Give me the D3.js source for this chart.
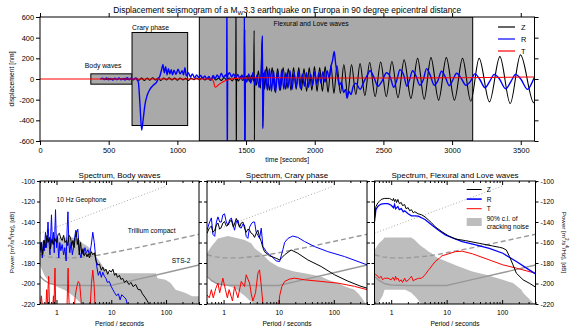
<!DOCTYPE html>
<html>
<head>
<meta charset="utf-8">
<script src="https://cdn.jsdelivr.net/npm/d3@7"></script>
<style>
body{margin:0;background:#fff;}
text{font-family:"Liberation Sans",Arial,sans-serif;fill:#000;}
</style>
</head>
<body>
<script>
// ---------- seismogram (time [s], displacement [nm]) ----------
const traceZ = [[440,0],[460,5],[480,-4],[500,6],[520,-5],[540,4],[560,-6],[580,5],[600,-3],[620,6],[640,-5],[660,4],
 [680,-8],[700,10],[720,-12],[740,8],[760,-15],[780,10],[800,-12],[820,12],[840,-10],[860,8],[880,-14],[900,10],
 [920,-8],[940,12],[960,-10],[980,8],[1000,-12],[1020,10],[1040,-8],[1060,6],[1080,-15],[1100,8],[1120,-6],[1140,10],
 [1160,-8],[1180,12],[1200,-10],[1220,8],[1240,-12],[1260,15],[1280,-10],[1300,8],[1320,-15],[1340,12],[1360,-10],
 [1380,10],[1400,-20],[1415,15],[1425,-10],[1427,900],[1429,-900],[1431,10],[1445,-20],[1460,25],[1475,-15],[1488,10],
 [1491,480],[1493,-590],[1495,-10],[1510,30],[1525,-25],[1540,35],[1555,-20],[1559,470],[1561,-590],[1563,20],
 [1575,-60],[1590,80],[1605,-90],[1619,400],[1622,-460],[1628,60],[1635,-100],
 [1650,120],[1670,-110],[1690,110],[1710,-120],[1730,100],[1750,-110],[1770,110],[1789,-100],[1808,100],[1827,-110],
 [1846,110],[1865,-100],[1884,110],[1903,-110],[1922,100],[1941,-120],[1960,110],[1979,-110],[1998,120],[2017,-120],
 [2036,110],[2056,-120],[2076,120],[2097,-130],[2118,130],[2140,-140],[2162,130],[2187,-140],[2212,140],[2240,-150],
 [2268,140],[2299,-150],[2330,150],[2365,-160],[2400,160],[2440,-170],[2480,165],[2521,-170],[2562,170],[2606,-180],
 [2651,185],[2700,-188],[2749,200],[2797,-195],[2846,207],[2902,-204],[2958,207],[3017,-204],[3076,200],[3136,-215],
 [3197,200],[3272,-221],[3348,217],[3423,-237],[3498,233],[3595,-230],[3600,-228]];

const traceR = [[440,0],[455,8],[470,-6],[485,10],[500,-8],[515,6],[530,-10],[545,8],[560,-5],[575,10],[590,-8],[605,6],
 [620,-10],[635,12],[650,-8],[665,10],[680,-5],[695,8],[705,-5],[716,-30],[728,-250],[740,-495],[752,-380],[764,-250],
 [780,-160],[800,-100],[825,-60],[849,-30],[860,0],[873,30],[885,90],[895,140],[905,60],[915,120],[925,40],[935,100],
 [945,50],[955,90],[965,40],[975,85],[990,45],[1005,95],[1020,50],[1035,80],[1045,40],[1055,110],[1065,30],[1080,60],
 [1095,20],[1110,50],[1125,10],[1140,40],[1155,15],[1170,35],[1185,5],[1200,30],[1215,0],[1230,25],[1245,-10],[1260,35],
 [1275,5],[1290,40],[1305,10],[1320,55],[1335,15],[1350,40],[1359,20],[1361,900],[1363,-900],[1366,30],[1380,60],
 [1395,20],[1410,50],[1425,10],[1440,45],[1455,0],[1470,40],[1485,-10],[1488,600],[1490,-600],[1493,20],[1505,-30],
 [1520,50],[1535,-40],[1550,60],[1565,-60],[1580,40],[1595,-80],[1610,50],[1619,420],[1622,-480],[1630,-20],[1640,90],
 [1655,-110],[1670,100],[1685,-120],[1700,80],[1715,-130],[1730,70],[1745,-110],[1760,90],[1775,-100],[1790,60],
 [1805,-90],[1820,80],[1835,-100],[1850,60],[1865,-80],[1880,70],[1895,-90],[1910,50],[1925,-70],[1940,60],[1955,-80],
 [1970,50],[1985,-60],[2000,70],[2015,-50],[2030,60],[2045,-40],[2060,70],[2075,-30],[2090,80],[2105,10],[2118,120],
 [2130,180],[2142,266],[2152,150],[2165,40],[2180,-60],[2195,-30],[2210,-130],[2225,-100],[2235,-185],[2250,-120],
 [2265,-150],[2280,-70],[2300,-40],[2330,-100],[2360,-20],[2380,30],[2402,80],[2430,20],[2460,-70],[2490,-20],
 [2523,60],[2550,20],[2575,-80],[2600,0],[2620,90],[2650,30],[2670,-70],[2690,-10],[2712,80],[2740,20],[2765,-60],
 [2790,-10],[2814,100],[2840,40],[2870,-60],[2895,-20],[2923,75],[2950,20],[2980,-65],[3005,-10],[3033,55],[3065,10],
 [3100,-60],[3135,-20],[3166,50],[3200,0],[3240,-85],[3275,-20],[3307,45],[3345,0],[3390,-95],[3430,-20],[3462,45],
 [3500,0],[3550,-100],[3580,-40],[3600,20]];

const traceT = [[0,0],[1250,0],[1262,-20],[1275,-80],[1300,-55],[1330,-30],[1370,-8],[1420,6],[1600,12],[2000,10],
 [2500,9],[3000,12],[3600,20]];

const windowNames = ["Body waves","Crary phase","Flexural and Love waves"];
const windowStart = [370, 670, 1160];
const windowEnd = [670, 1075, 3150];
const windowAmp = [50, 450, 600];

const timeTicks = [0,500,1000,1500,2000,2500,3000,3500];
const dispTicks = [-600,-400,-200,0,200,400,600];

// ---------- spectra (period [s], power [dB]) ----------
const specZ1 = [[0.5,-168],[0.53,-160],[0.56,-172],[0.6,-158],[0.63,-165],[0.67,-153],[0.7,-160],[0.74,-155],[0.78,-166],
 [0.82,-157],[0.87,-162],[0.93,-156],[1.0,-160],[1.07,-152],[1.13,-151],[1.2,-156],[1.27,-158],[1.35,-153],[1.43,-160],
 [1.52,-158],[1.6,-163],[1.7,-153],[1.8,-155],[1.9,-163],[2.0,-158],[2.1,-165],[2.2,-155],[2.3,-150],[2.4,-162],
 [2.5,-156],[2.6,-172],[2.75,-160],[2.9,-171],[3.05,-166],[3.2,-173],[3.4,-170],[3.6,-174],[3.8,-171],[4.0,-175],
 [4.3,-169],[4.6,-172],[4.9,-170],[5.3,-178],[5.7,-182],[6.1,-181],[6.6,-187],[7.0,-184],[7.5,-188],[8.0,-186],
 [8.6,-191],[9.3,-187],[10,-189],[10.7,-186],[11.5,-192],[12.2,-190],[13,-194],[14.1,-192],[15,-196],[16.2,-195],
 [17.5,-199],[19,-197],[21,-201],[23,-199],[25,-203],[28,-201],[31,-206],[34,-206],[37,-210],[42,-214],[49,-220],[52,-222]];
const specR1 = [[0.5,-170],[0.52,-160],[0.55,-175],[0.58,-158],[0.6,-168],[0.63,-150],[0.66,-165],[0.7,-140],
 [0.73,-160],[0.76,-172],[0.81,-133],[0.84,-160],[0.88,-150],[0.91,-170],[0.96,-128],[1.0,-165],[1.04,-155],[1.1,-175],
 [1.15,-160],[1.2,-168],[1.27,-162],[1.35,-172],[1.42,-165],[1.5,-178],[1.57,-145],[1.62,-130],[1.68,-160],[1.75,-170],
 [1.85,-160],[1.95,-172],[2.05,-165],[2.15,-155],[2.25,-148],[2.35,-150],[2.45,-147],[2.55,-160],[2.65,-170],
 [2.8,-175],[2.95,-168],[3.1,-172],[3.3,-165],[3.5,-170],[3.75,-167],[4.0,-172],[4.3,-163],[4.6,-150],[4.9,-160],
 [5.2,-175],[5.5,-185],[5.8,-192],[6.2,-188],[6.6,-194],[7.0,-189],[7.5,-193],[8.0,-195],[8.5,-199],[9.2,-198],
 [10,-203],[10.7,-206],[11.5,-209],[12.5,-212],[13.5,-210],[14.5,-216],[15.5,-211],[17,-213],[18.5,-215],[20,-222]];
const specT1 = [[0.5,-225],[0.53,-212],[0.56,-225],[0.64,-225],[0.66,-206],[0.69,-225],[0.7,-205],[0.72,-193],
 [0.75,-225],[0.85,-225],[0.88,-212],[0.9,-225],[0.92,-200],[0.94,-185],[0.97,-225],[1.55,-225],[1.6,-200],[1.63,-185],
 [1.67,-210],[1.72,-225],[2.1,-225],[2.2,-212],[2.35,-203],[2.5,-198],[2.65,-200],[2.8,-215],[2.9,-225],[4.1,-225],
 [4.35,-200],[4.6,-187],[4.85,-200],[5.1,-225],[6,-230]];

const specZ2 = [[0.5,-151],[0.55,-146],[0.6,-144],[0.64,-150],[0.69,-148],[0.74,-143],[0.79,-141],[0.85,-147],
 [0.91,-145],[0.97,-141],[1.04,-139.5],[1.12,-144],[1.2,-143],[1.29,-140],[1.38,-138],[1.5,-145],[1.6,-141],
 [1.7,-136.5],[1.82,-141],[1.95,-145],[2.09,-141],[2.24,-140],[2.4,-146],[2.57,-150],[2.76,-147],[2.96,-148],
 [3.17,-151],[3.4,-152],[3.65,-155],[3.9,-151],[4.19,-148],[4.5,-155],[4.82,-159],[5.17,-165],[5.54,-169],
 [6.83,-173],[9,-175.4],[10.4,-177],[12.8,-172],[16.8,-167.3],[22.2,-170.5],[33.8,-177],[58.9,-183.4],[103,-191.5],
 [180,-197.7],[312,-202.8],[400,-204.5]];
const specR2 = [[0.5,-148],[0.55,-141],[0.6,-136],[0.64,-152],[0.69,-154],[0.74,-140],[0.79,-135],[0.85,-140],
 [0.91,-140],[0.97,-133],[1.04,-132],[1.12,-140],[1.2,-143],[1.29,-138],[1.38,-136],[1.48,-142],[1.58,-148],[1.7,-140],
 [1.82,-138],[1.95,-145],[2.09,-146],[2.24,-142],[2.4,-143],[2.57,-154],[2.76,-156],[2.96,-145],[3.17,-142],[3.4,-140],
 [3.65,-140],[3.9,-150],[4.19,-153],[4.49,-156],[4.82,-146],[5.17,-164],[5.54,-166],[5.94,-169],[6.83,-172],
 [7.32,-173],[9,-178],[10.4,-178.6],[11.9,-167],[12.8,-160],[14.7,-156],[18,-153.7],[22.2,-155],[29.4,-159],
 [44.7,-164],[77.9,-168.9],[156,-173.7],[400,-181.8]];
const specT2 = [[0.5,-211],[0.55,-214],[0.6,-206],[0.65,-214],[0.72,-205],[0.79,-199.6],[0.85,-209],[0.97,-194.8],
 [1.08,-206],[1.17,-214],[1.26,-206],[1.45,-217],[1.58,-203],[1.82,-214],[2.09,-198],[2.4,-203],[2.57,-191.5],
 [2.96,-199.6],[3.17,-210],[3.4,-217],[3.8,-209],[4.19,-190],[4.49,-186.7],[4.82,-202],[5.17,-220],[5.5,-230],
 [9.67,-230],[10.4,-212],[11.4,-203],[12.8,-198],[15.7,-195.7],[19.3,-194.8],[29.4,-196.4],[58.9,-198],[118,-199.6],
 [237,-202.8],[400,-206]];

const specZ3 = [[0.5,-136],[0.53,-125],[0.58,-121],[0.61,-120],[0.66,-118],[0.75,-117],[0.87,-117],[0.93,-117],
 [1.0,-118],[1.07,-119],[1.1,-117],[1.15,-120],[1.2,-118],[1.25,-121],[1.32,-118],[1.4,-122],[1.52,-121],[1.6,-124],
 [1.75,-123],[1.85,-127],[2.02,-126],[2.15,-129],[2.32,-128],[2.5,-131],[2.67,-130],[3.07,-132],[3.54,-133],
 [4.07,-135],[4.69,-138],[5.39,-141],[6.2,-144.6],[8.23,-149.5],[10.9,-153.7],[14.4,-156.6],[22,-158.2],[38.6,-160.8],
 [67.7,-163.4],[89.6,-164.7],[103,-165.5],[119,-167.3],[136,-173.7],[157,-181.8],[181,-190],[239,-196.4],[316,-200],
 [400,-203.5]];
const specR3 = [[0.5,-139.8],[0.53,-128],[0.58,-124.6],[0.61,-123.6],[0.66,-122.5],[0.75,-122],[0.87,-122],[1.0,-123.6],
 [1.1,-126],[1.15,-123],[1.2,-127],[1.32,-125],[1.4,-128],[1.52,-127],[1.65,-130],[1.75,-129],[2.02,-132],[2.32,-134],
 [2.67,-134],[3.07,-134.3],[4.07,-137.5],[5.39,-143],[7.15,-148],[9.47,-152.6],[12.5,-155.3],[19.1,-159.2],
 [33.5,-162.4],[58.8,-165.7],[103,-170.5],[181,-178.6],[275,-185],[400,-190.6]];
const specT3 = [[0.5,-190],[0.53,-191.5],[0.58,-193],[0.61,-194.8],[0.66,-193],[0.7,-196.4],[0.75,-195],[0.87,-194.8],
 [1.0,-196.4],[1.07,-194],[1.15,-197],[1.2,-193],[1.25,-196],[1.32,-194.8],[1.4,-198],[1.52,-196.4],[1.6,-199],
 [1.75,-194.8],[1.85,-198],[2.02,-197],[2.15,-195],[2.32,-193],[2.5,-197.5],[2.67,-196.4],[3.07,-195],[3.54,-194.8],
 [4.07,-191.5],[4.69,-187],[5.03,-185],[6.2,-178.6],[7.5,-175],[8.23,-173],[10.9,-171],[14.4,-168.9],[19.1,-168.5],
 [29.1,-171],[58.8,-177],[103,-181.8],[181,-185],[400,-190]];

// 90% c.l. of cracking noise: [period, upper, lower]
const band1 = [[0.5,-160,-182],[0.6,-158,-192],[0.76,-155,-200],[1.0,-155,-203],[1.5,-155,-207],[2.0,-155,-212],
 [2.65,-157.6,-218],[3.0,-160.8,-222],[3.75,-164,-222],[4.3,-167,-222],[4.62,-170,-222],[5.3,-174,-222],[6.1,-178,-222],
 [7,-183,-222],[8,-186.7,-222],[9.3,-189.9,-222],[65,-190,-222],[70,-194.8,-222],[98,-196.4,-222],[121,-199.6,-222],
 [150,-206,-222],[228,-209.3,-222],[300,-212.5,-222],[400,-212.5,-222]];
const band2 = [[0.5,-170.5,-191.5],[0.6,-164,-198],[0.79,-156,-200],[1.2,-153.7,-202.8],[1.58,-155,-204.5],
 [2.4,-157.6,-212],[3.17,-160.8,-218],[3.65,-165.7,-222],[4.19,-168,-222],[4.82,-170.5,-222],[5.54,-173.7,-222],
 [6.83,-178.6,-222],[9.67,-183.4,-222],[14.7,-186.7,-222],[19.3,-188.3,-222],[29.4,-189.9,-222],[58.9,-193.1,-222],
 [77.9,-196.4,-222],[118,-199.6,-222],[156,-202.8,-222],[237,-206,-222],[280,-210,-222],[320,-214,-222],
 [360,-218,-222],[400,-221,-222]];
const band3 = [[0.5,-167.3,-222],[0.55,-164,-222],[0.6,-160.8,-218],[0.7,-157.6,-212],[0.76,-155,-206],
 [1.8,-155,-206],[2.3,-155,-209],[2.67,-157.6,-212.5],[3.07,-161,-216],[3.54,-164,-222],[4.07,-166,-222],
 [4.69,-168.9,-222],[5.39,-170.5,-222],[6.2,-173.7,-222],[7.15,-175.4,-222],[9.47,-178,-222],[16.6,-183.4,-222],
 [29,-188.3,-222],[51,-191.5,-222],[103,-196.4,-222],[157,-199.6,-222],[223,-206.1,-222],[239,-209,-222],
 [275,-212.5,-222],[364,-219,-222],[400,-220,-222]];

// instrument self-noise models
const geophone = [[0.5,-151],[100,-105]];
const trillium = [[0.5,-172],[0.7,-174],[1,-175],[2,-175],[5,-173],[10,-170],[30,-165],[100,-159],[400,-152]];
const sts2 = [[0.5,-193],[0.6,-197],[0.75,-200],[1,-201.5],[2,-202],[10,-202],[30,-196],[100,-189.5],[400,-182]];

const panelTitles = ["Spectrum, Body waves","Spectrum, Crary phase","Spectrum, Flexural and Love waves"];
const specZ = [specZ1,specZ2,specZ3], specR = [specR1,specR2,specR3], specT = [specT1,specT2,specT3];
const bands = [band1,band2,band3];
const powerTicks = [-220,-200,-180,-160,-140,-120,-100];
const periodMajor = [1,10,100];
const periodMinor = [0.5,0.6,0.7,0.8,0.9,2,3,4,5,6,7,8,9,20,30,40,50,60,70,80,90,200,300,400];

// ---------- drawing ----------
const width = 575, height = 335;
const svg = d3.select("body").append("svg").attr("width",width).attr("height",height);

const colZ = "#000000", colR = "#0000ff", colT = "#ff0000";
const tickFont = 7.4;

function styleAxis(g, fs){
	g.select(".domain").remove();
	g.selectAll("text").attr("font-size",fs).attr("font-family","Liberation Sans, Arial, sans-serif");
	g.selectAll("line").attr("stroke","#000");
	g.attr("font-size",null).attr("font-family",null);
}

// top plot
const topBox = {l:40, r:534.5, t:17, b:141};
const xT = d3.scaleLinear().domain([0,3600]).range([topBox.l,topBox.r]);
const yT = d3.scaleLinear().domain([-600,600]).range([topBox.b,topBox.t]);

svg.append("clipPath").attr("id","clipTop").append("rect")
	.attr("x",topBox.l).attr("y",topBox.t).attr("width",topBox.r-topBox.l).attr("height",topBox.b-topBox.t);

const gTop = svg.append("g");
gTop.append("g").attr("clip-path","url(#clipTop)").selectAll("rect")
	.data(windowNames).enter().append("rect")
	.attr("x",(d,i)=>xT(windowStart[i]))
	.attr("width",(d,i)=>xT(windowEnd[i])-xT(windowStart[i]))
	.attr("y",(d,i)=>yT(windowAmp[i]))
	.attr("height",(d,i)=>yT(-windowAmp[i])-yT(windowAmp[i]))
	.attr("fill","#a9a9a9").attr("stroke","#000").attr("stroke-width",1);

const lineT = d3.line().x(d=>xT(d[0])).y(d=>yT(d[1])).curve(d3.curveMonotoneX);
const traces = gTop.append("g").attr("clip-path","url(#clipTop)");
traces.append("path").attr("d",lineT(traceZ)).attr("fill","none").attr("stroke",colZ).attr("stroke-width",1.1);
traces.append("path").attr("d",lineT(traceR)).attr("fill","none").attr("stroke",colR).attr("stroke-width",1.4);
traces.append("path").attr("d",lineT(traceT)).attr("fill","none").attr("stroke",colT).attr("stroke-width",1.1);

// window labels
gTop.append("text").attr("x",xT(windowStart[0])-6).attr("y",yT(windowAmp[0])-6).attr("font-size",6.8).text(windowNames[0]);
gTop.append("text").attr("x",xT(windowStart[1])).attr("y",yT(windowAmp[1])-3).attr("font-size",6.8).text(windowNames[1]);
gTop.append("text").attr("x",xT(1700)).attr("y",yT(windowAmp[2])+9).attr("font-size",6.8).text(windowNames[2]);

// axes of top plot
gTop.append("g").attr("transform",`translate(0,${topBox.b})`)
	.call(d3.axisBottom(xT).tickValues(timeTicks).tickSize(4).tickPadding(3).tickFormat(d=>String(d)))
	.call(g=>styleAxis(g,tickFont));
gTop.append("g").attr("transform",`translate(0,${topBox.t})`)
	.call(d3.axisTop(xT).tickValues(timeTicks).tickSize(4).tickFormat(""))
	.call(g=>styleAxis(g,tickFont));
gTop.append("g").attr("transform",`translate(${topBox.l},0)`)
	.call(d3.axisLeft(yT).tickValues(dispTicks).tickSize(4).tickPadding(2).tickFormat(d=>String(d)))
	.call(g=>styleAxis(g,tickFont));
gTop.append("g").attr("transform",`translate(${topBox.r},0)`)
	.call(d3.axisRight(yT).tickValues(dispTicks).tickSize(4).tickFormat(""))
	.call(g=>styleAxis(g,tickFont));
gTop.append("rect").attr("x",topBox.l).attr("y",topBox.t).attr("width",topBox.r-topBox.l).attr("height",topBox.b-topBox.t)
	.attr("fill","none").attr("stroke","#000").attr("stroke-width",1);

// title
const title = svg.append("text").attr("x",(topBox.l+topBox.r)/2).attr("y",13).attr("text-anchor","middle").attr("font-size",8.4);
title.append("tspan").text("Displacement seismogram of a M");
title.append("tspan").attr("font-size",6).attr("dy",2).text("W");
title.append("tspan").attr("dy",-2).text("3.3 earthquake on Europa in 90 degree epicentral distance");

svg.append("text").attr("x",(topBox.l+topBox.r)/2).attr("y",162).attr("text-anchor","middle").attr("font-size",6.8).text("time [seconds]");
svg.append("text").attr("transform",`translate(14,${(topBox.t+topBox.b)/2}) rotate(-90)`).attr("text-anchor","middle")
	.attr("font-size",6.8).text("displacement [nm]");

// top legend
const legNames = ["Z","R","T"], legCols = [colZ,colR,colT];
legNames.forEach((n,i)=>{
	const y = 27 + i*12;
	svg.append("line").attr("x1",498).attr("x2",515).attr("y1",y).attr("y2",y).attr("stroke",legCols[i]).attr("stroke-width",1.2);
	svg.append("text").attr("x",521).attr("y",y+2.5).attr("font-size",7.4).text(n);
});

// spectra panels
const panelL = [40,207,374.5], panelR = [199,367,535.5];
const pTop = 181, pBot = 304;
const yP = d3.scaleLinear().domain([-220,-100]).range([pBot,pTop]);

panelTitles.forEach((ttl,i)=>{
	const xP = d3.scaleLog().domain([0.5,400]).range([panelL[i],panelR[i]]);
	const g = svg.append("g");
	const cid = "clipP"+i;
	svg.append("clipPath").attr("id",cid).append("rect")
		.attr("x",panelL[i]).attr("y",pTop).attr("width",panelR[i]-panelL[i]).attr("height",pBot-pTop);
	const inner = g.append("g").attr("clip-path",`url(#${cid})`);

	const area = d3.area().x(d=>xP(d[0])).y0(d=>yP(d[2])).y1(d=>yP(d[1]));
	inner.append("path").attr("d",area(bands[i])).attr("fill","#bdbdbd").attr("stroke","none");

	const ln = d3.line().x(d=>xP(d[0])).y(d=>yP(d[1]));
	inner.append("path").attr("d",ln(geophone)).attr("fill","none").attr("stroke","#aaaaaa").attr("stroke-width",1).attr("stroke-dasharray","1,2");
	inner.append("path").attr("d",ln(trillium)).attr("fill","none").attr("stroke","#999999").attr("stroke-width",1.4).attr("stroke-dasharray","5,3");
	inner.append("path").attr("d",ln(sts2)).attr("fill","none").attr("stroke","#999999").attr("stroke-width",1.4);

	inner.append("path").attr("d",ln(specT[i])).attr("fill","none").attr("stroke",colT).attr("stroke-width",1);
	inner.append("path").attr("d",ln(specR[i])).attr("fill","none").attr("stroke",colR).attr("stroke-width",i===2?1.3:1);
	inner.append("path").attr("d",ln(specZ[i])).attr("fill","none").attr("stroke",colZ).attr("stroke-width",1);

	// axes
	g.append("g").attr("transform",`translate(0,${pBot})`)
		.call(d3.axisBottom(xP).tickValues(periodMajor).tickSize(-4).tickPadding(6).tickFormat(d3.format("d")))
		.call(a=>styleAxis(a,6.8));
	g.append("g").attr("transform",`translate(0,${pBot})`)
		.call(d3.axisBottom(xP).tickValues(periodMinor).tickSize(-2).tickFormat(""))
		.call(a=>styleAxis(a,6.8));
	g.append("g").attr("transform",`translate(0,${pTop})`)
		.call(d3.axisTop(xP).tickValues(periodMajor).tickSize(-4).tickFormat(""))
		.call(a=>styleAxis(a,6.8));
	g.append("g").attr("transform",`translate(0,${pTop})`)
		.call(d3.axisTop(xP).tickValues(periodMinor).tickSize(-2).tickFormat(""))
		.call(a=>styleAxis(a,6.8));
	g.append("g").attr("transform",`translate(${panelL[i]},0)`)
		.call(d3.axisLeft(yP).tickValues(powerTicks).tickSize(3).tickPadding(2).tickFormat(i===0?(d=>String(d)):""))
		.call(a=>styleAxis(a,6.8));
	g.append("g").attr("transform",`translate(${panelR[i]},0)`)
		.call(d3.axisRight(yP).tickValues(powerTicks).tickSize(3).tickPadding(2).tickFormat(i===2?(d=>String(d)):""))
		.call(a=>styleAxis(a,6.8));
	g.append("rect").attr("x",panelL[i]).attr("y",pTop).attr("width",panelR[i]-panelL[i]).attr("height",pBot-pTop)
		.attr("fill","none").attr("stroke","#000").attr("stroke-width",1);

	svg.append("text").attr("x",(panelL[i]+panelR[i])/2).attr("y",178).attr("text-anchor","middle").attr("font-size",8).text(ttl);
	svg.append("text").attr("x",(panelL[i]+panelR[i])/2).attr("y",326).attr("text-anchor","middle").attr("font-size",6.6).text("Period / seconds");

	if(i===0){
		g.append("text").attr("x",xP(1.0)).attr("y",yP(-120)).attr("font-size",6.6).text("10 Hz Geophone");
		g.append("text").attr("x",xP(20)).attr("y",yP(-150.5)).attr("font-size",6.6).text("Trillium compact");
		g.append("text").attr("x",xP(127)).attr("y",yP(-180)).attr("font-size",6.6).text("STS-2");
	}
	if(i===2){
		const lx = 466.7;
		[colZ,colR,colT].forEach((c,k)=>{
			const y = 189.5 + k*9.6;
			g.append("line").attr("x1",lx).attr("x2",lx+15).attr("y1",y).attr("y2",y).attr("stroke",c).attr("stroke-width",k===1?1.6:1);
			g.append("text").attr("x",lx+20).attr("y",y+2.4).attr("font-size",6.6).text(legNames[k]);
		});
		g.append("rect").attr("x",lx).attr("y",218).attr("width",15).attr("height",8).attr("fill","#bdbdbd");
		g.append("text").attr("x",lx+20).attr("y",221).attr("font-size",6.6).text("90% c.l. of");
		g.append("text").attr("x",lx+20).attr("y",228.5).attr("font-size",6.6).text("cracking noise");
	}
});

// power axis labels
function powerLabel(x, rot){
	const t = svg.append("text").attr("transform",`translate(${x},${(pTop+pBot)/2}) rotate(${rot})`)
		.attr("text-anchor","middle").attr("font-size",6.2);
	t.append("tspan").text("Power [m");
	t.append("tspan").attr("font-size",4.5).attr("dy",-2.5).text("2");
	t.append("tspan").attr("dy",2.5).text("/s");
	t.append("tspan").attr("font-size",4.5).attr("dy",-2.5).text("4");
	t.append("tspan").attr("dy",2.5).text("/Hz], [dB]");
}
powerLabel(14, -90);
powerLabel(562, 90);
</script>
</body>
</html>
